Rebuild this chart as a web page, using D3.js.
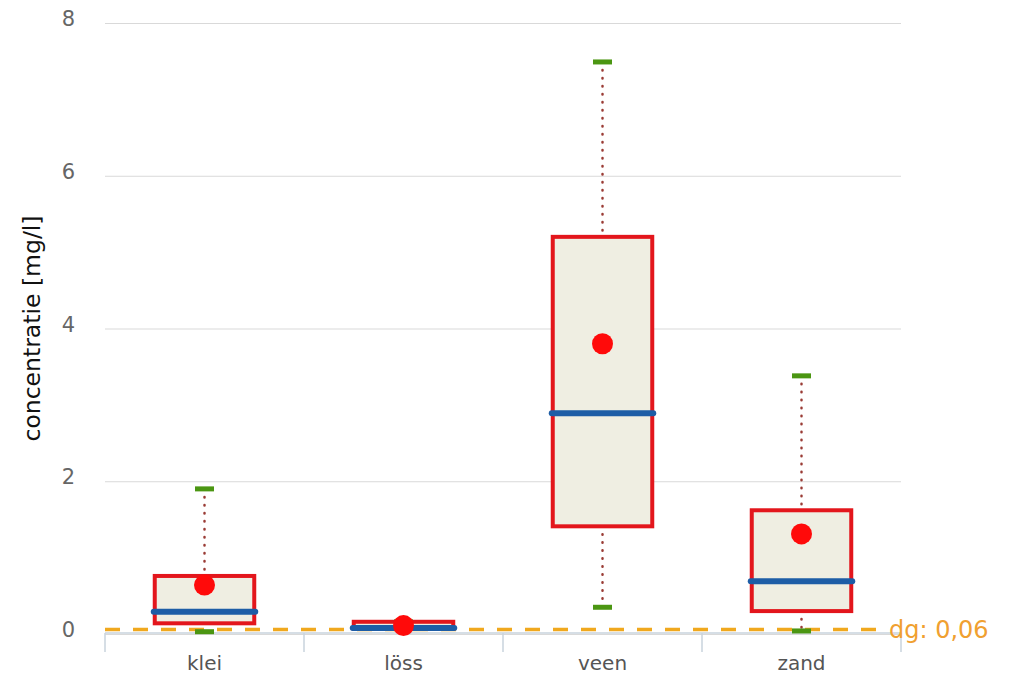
<!DOCTYPE html>
<html>
<head>
<meta charset="utf-8">
<script src="https://cdn.jsdelivr.net/npm/d3@7"></script>
<style>
  body { margin: 0; background: #fff; }
  svg { display: block; font-family: "DejaVu Sans", sans-serif; }
</style>
</head>
<body>
<svg id="chart" width="1009" height="677"></svg>
<script>
// grondsoorten en boxplot-statistieken (mg/l)
const categories = ["klei", "löss", "veen", "zand"];
const minVals    = [0.03, 0.07, 0.35, 0.04];
const q1Vals     = [0.14, 0.07, 1.41, 0.30];
const medianVals = [0.29, 0.08, 2.89, 0.69];
const q3Vals     = [0.76, 0.16, 5.20, 1.62];
const maxVals    = [1.90, 0.16, 7.49, 3.38];
const meanVals   = [0.64, 0.11, 3.80, 1.31];
const yTicks = [0, 2, 4, 6, 8];
const dgValue = 0.06;
const dgLabel = "dg: 0,06";

const svg = d3.select("#chart");
const plotLeft = 105, plotRight = 901, plotTop = 23, plotBottom = 634;

const x = d3.scaleBand().domain(categories).range([plotLeft, plotRight]).padding(0);
const y = d3.scaleLinear().domain([0, 8]).range([plotBottom, plotTop]);

// gridlines + y labels
const yAxis = svg.append("g")
    .attr("transform", `translate(${plotLeft},0)`)
    .call(d3.axisLeft(y).tickValues(yTicks).tickSize(-(plotRight - plotLeft)).tickPadding(30));
yAxis.select(".domain").remove();
yAxis.selectAll(".tick line").attr("stroke", "#d9d9d9");
yAxis.selectAll(".tick text")
    .attr("fill", "#666")
    .attr("font-size", 21)
    .attr("dy", "0.12em")
    .style("font-family", "DejaVu Sans, sans-serif");

svg.append("text")
    .attr("transform", `translate(40,${(plotTop + plotBottom) / 2}) rotate(-90)`)
    .attr("text-anchor", "middle")
    .attr("font-size", 23.5)
    .attr("fill", "#111")
    .text("concentratie [mg/l]");

// x axis line and band ticks
const axisY = 633;
svg.append("line")
    .attr("x1", plotLeft).attr("x2", plotRight)
    .attr("y1", axisY).attr("y2", axisY)
    .attr("stroke", "#c9d3dd").attr("stroke-width", 1.5);
const edges = categories.map(c => x(c)).concat([x(categories[categories.length - 1]) + x.bandwidth()]);
svg.selectAll(".xtick").data(edges).enter().append("line")
    .attr("x1", d => d).attr("x2", d => d)
    .attr("y1", axisY).attr("y2", axisY + 19)
    .attr("stroke", "#c9d3dd").attr("stroke-width", 1.5);
svg.selectAll(".xlabel").data(categories).enter().append("text")
    .attr("x", d => x(d) + x.bandwidth() / 2)
    .attr("y", 670)
    .attr("text-anchor", "middle")
    .attr("font-size", 20)
    .attr("fill", "#555")
    .text(d => d);

// dg line
svg.append("line")
    .attr("x1", plotLeft).attr("x2", 888)
    .attr("y1", y(dgValue)).attr("y2", y(dgValue))
    .attr("stroke", "#f0a81e").attr("stroke-width", 3.5)
    .attr("stroke-dasharray", "15,13");
svg.append("text")
    .attr("x", 889).attr("y", y(dgValue))
    .attr("dy", "0.35em")
    .attr("font-size", 24)
    .attr("fill", "#f0a030")
    .text(dgLabel);

// boxes
const data = categories.map((c, i) => ({
    cat: c, min: minVals[i], q1: q1Vals[i], med: medianVals[i],
    q3: q3Vals[i], max: maxVals[i], mean: meanVals[i]
}));
const bw = x.bandwidth() * 0.5;
const g = svg.selectAll(".box").data(data).enter().append("g")
    .attr("transform", d => `translate(${x(d.cat) + x.bandwidth() / 2},0)`);

g.append("line")
    .attr("y1", d => y(d.max)).attr("y2", d => y(d.q3))
    .attr("stroke", "#9a3b35").attr("stroke-width", 2.5)
    .attr("stroke-linecap", "round").attr("stroke-dasharray", "0.5,7.5");
g.append("line")
    .attr("y1", d => y(d.q1)).attr("y2", d => y(d.min))
    .attr("stroke", "#9a3b35").attr("stroke-width", 2.5)
    .attr("stroke-linecap", "round").attr("stroke-dasharray", "0.5,7.5");
g.append("rect")
    .attr("x", -9.5).attr("width", 19)
    .attr("y", d => y(d.max) - 2.5).attr("height", 5)
    .attr("fill", "#4b9612");
g.append("rect")
    .attr("x", -9.5).attr("width", 19)
    .attr("y", d => y(d.min) - 2.5).attr("height", 5)
    .attr("fill", "#4b9612");

g.append("rect")
    .attr("x", -bw / 2).attr("width", bw)
    .attr("y", d => y(d.q3))
    .attr("height", d => y(d.q1) - y(d.q3))
    .attr("fill", "#efeee2")
    .attr("stroke", "#e3161c").attr("stroke-width", 4);
g.append("line")
    .attr("x1", -bw / 2 - 1).attr("x2", bw / 2 + 1)
    .attr("y1", d => y(d.med)).attr("y2", d => y(d.med))
    .attr("stroke", "#1d5da6").attr("stroke-width", 6)
    .attr("stroke-linecap", "round");
g.append("circle")
    .attr("cy", d => y(d.mean))
    .attr("r", 10.5)
    .attr("fill", "#ff0a0a");
</script>
</body>
</html>
